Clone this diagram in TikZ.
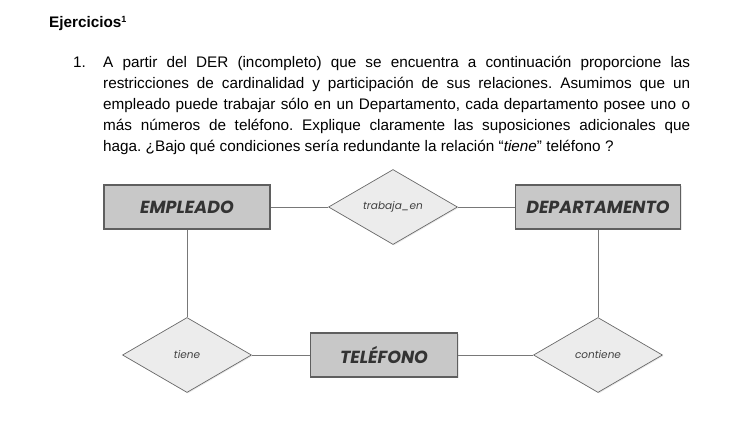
\documentclass[tikz,border=0pt]{standalone}
\usepackage{fontspec}
\setmainfont{Liberation Sans}
\newfontfamily\sketchfont{Poppins}
\usetikzlibrary{shapes.geometric,shadows}
\frenchspacing
\begin{document}
\begin{tikzpicture}[x=1pt,y=-1pt]
            \definecolor{entity_color}{RGB}{200,200,200}
            \definecolor{entity_border}{RGB}{95,95,95}
            \definecolor{rel_color}{RGB}{236,236,236}
            \definecolor{rel_border}{RGB}{105,105,105}
            \definecolor{link_color}{RGB}{120,120,120}
            \tikzstyle{entity} = [draw=entity_border, line width=1.6pt, fill=entity_color, shape=rectangle, minimum height=44pt, inner xsep=2pt, drop shadow={opacity=0.18, shadow xshift=1pt, shadow yshift=-1pt}, font=\sketchfont\bfseries\itshape\fontsize{17.5}{17.5}\selectfont, text=black!80]
            \tikzstyle{rel} = [draw=rel_border, line width=0.7pt, fill=rel_color, shape=diamond, aspect=1.7, minimum width=129pt, minimum height=75pt, inner sep=0pt, drop shadow={opacity=0.18, shadow xshift=1pt, shadow yshift=-1pt}, font=\sketchfont\itshape\fontsize{10.5}{10.5}\selectfont, text=black!75]
            \tikzstyle{link} = [draw=link_color, line width=0.8pt]
            \tikzstyle{txt} = [inner sep=0pt, font=\fontsize{15.3}{21}\selectfont]
            \useasboundingbox (0,0) rectangle (742,432);
            % enunciado
            \node[txt, anchor=base west, font=\bfseries\fontsize{15.3}{21}\selectfont] (title) at (49,27) {Ejercicios\raisebox{5pt}{\fontsize{9}{9}\selectfont 1}};
            \node[txt, anchor=base west] (num) at (73,67) {1.};
            \node[txt, anchor=base west, text width=587pt, align=justify] (item) at (103,67) {A partir del DER (incompleto) que se encuentra a continuación proporcione las\linebreak restricciones de cardinalidad y participación de sus relaciones. Asumimos que un\linebreak empleado puede trabajar sólo en un Departamento, cada departamento posee uno o\linebreak más números de teléfono. Explique claramente las suposiciones adicionales que\linebreak haga. ¿Bajo qué condiciones sería redundante la relación “\textit{tiene}” teléfono ?};
            % diagrama
            \node[entity, minimum width=166pt] (emp) at (187,207) {EMPLEADO};
            \node[rel] (trab) at (393,207) {trabaja\_en};
            \node[entity, minimum width=165pt] (dep) at (598,207) {DEPARTAMENTO};
            \node[rel] (tiene) at (187,355) {tiene};
            \node[entity, minimum width=147pt] (tel) at (384,355) {TELÉFONO};
            \node[rel] (cont) at (598,355) {contiene};
            \draw[link] (emp) -- (trab);
            \draw[link] (trab) -- (dep);
            \draw[link] (emp) -- (tiene);
            \draw[link] (tiene) -- (tel);
            \draw[link] (tel) -- (cont);
            \draw[link] (dep) -- (cont);
        \end{tikzpicture}
\end{document}
